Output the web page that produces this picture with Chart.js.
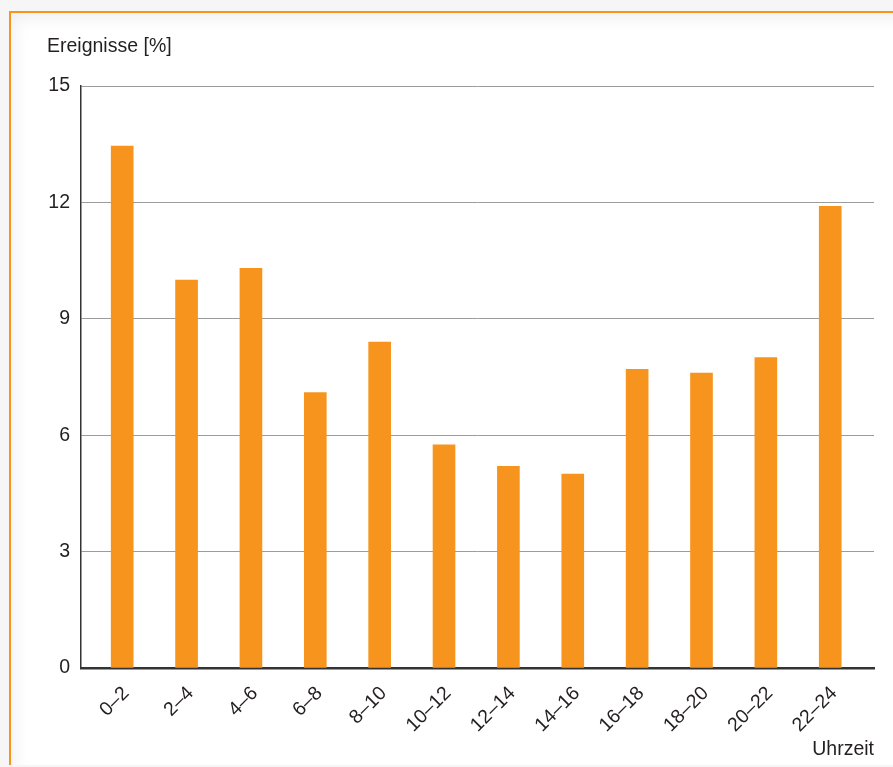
<!DOCTYPE html>
<html lang="de">
<head>
<meta charset="utf-8">
<title>Ereignisse nach Uhrzeit</title>
<script src="https://cdn.jsdelivr.net/npm/chart.js@4/dist/chart.umd.min.js"></script>
<style>
  html, body { margin: 0; padding: 0; background: #f6f6f6; overflow: hidden; }
  #panel {
    position: absolute; left: 9px; top: 11px; width: 900px; height: 752px;
    background: #fff;
    border-top: 2px solid #f7941d; border-left: 2px solid #f7941d;
    box-shadow: inset 10px 12px 18px -8px rgba(0,0,0,0.07);
  }
  #chart { position: absolute; left: 0; top: 0; }
</style>
</head>
<body>
<div id="panel"></div>
<canvas id="chart" width="893" height="767"></canvas>
<script>
var hours = ['0\u20132', '2\u20134', '4\u20136', '6\u20138', '8\u201310', '10\u201312',
             '12\u201314', '14\u201316', '16\u201318', '18\u201320', '20\u201322', '22\u201324'];
var events = [13.45, 10.0, 10.3, 7.1, 8.4, 5.75, 5.2, 5.0, 7.7, 7.6, 8.0, 11.9];
var yTicks = [0, 3, 6, 9, 12, 15];

var orange = '#f7941d';
var ink = '#231f20';
var font = { family: '"Liberation Sans", Arial, Helvetica, sans-serif', size: 19.5 };

// axis captions sit outside the plot area
var captions = {
    id: 'captions',
    afterDraw: function (chart) {
        var ctx = chart.ctx, area = chart.chartArea;
        ctx.save();
        ctx.fillStyle = ink;
        ctx.font = font.size + 'px ' + font.family;
        ctx.textBaseline = 'middle';
        ctx.textAlign = 'left';
        ctx.fillText('Ereignisse [%]', area.left - 34, area.top - 39);
        ctx.textAlign = 'right';
        ctx.fillText('Uhrzeit', area.right, area.bottom + 82);
        ctx.restore();
    }
};

new Chart(document.getElementById('chart'), {
    type: 'bar',
    data: {
        datasets: [{
            data: events.map(function (v, i) { return { x: i, y: v }; }),
            backgroundColor: orange,
            barThickness: 22
        }]
    },
    options: {
        responsive: false,
        animation: false,
        layout: { padding: { top: 86, right: 19, left: 0, bottom: 0 } },
        plugins: {
            legend: { display: false },
            tooltip: { enabled: false }
        },
        scales: {
            x: {
                type: 'linear',
                offset: false,
                min: -0.64,
                max: 11.68,
                afterFit: function (scale) { scale.height = 99; },
                afterBuildTicks: function (scale) {
                    scale.ticks = hours.map(function (h, i) { return { value: i }; });
                },
                grid: { display: false, drawTicks: false },
                border: { display: true, color: '#333', width: 2.5 },
                ticks: {
                    color: ink,
                    font: font,
                    minRotation: 45,
                    maxRotation: 45,
                    padding: 14,
                    labelOffset: 4,
                    autoSkip: false,
                    callback: function (v) { return hours[v]; }
                }
            },
            y: {
                min: 0,
                max: 15,
                afterFit: function (scale) { scale.width = 81; },
                afterBuildTicks: function (scale) {
                    scale.ticks = yTicks.map(function (t) { return { value: t }; });
                },
                grid: { color: '#9c9c9c', lineWidth: 1, drawTicks: false },
                border: { display: true, color: '#333', width: 1.5 },
                ticks: {
                    color: ink,
                    font: font,
                    padding: 11
                }
            }
        }
    },
    plugins: [captions]
});
</script>
</body>
</html>
